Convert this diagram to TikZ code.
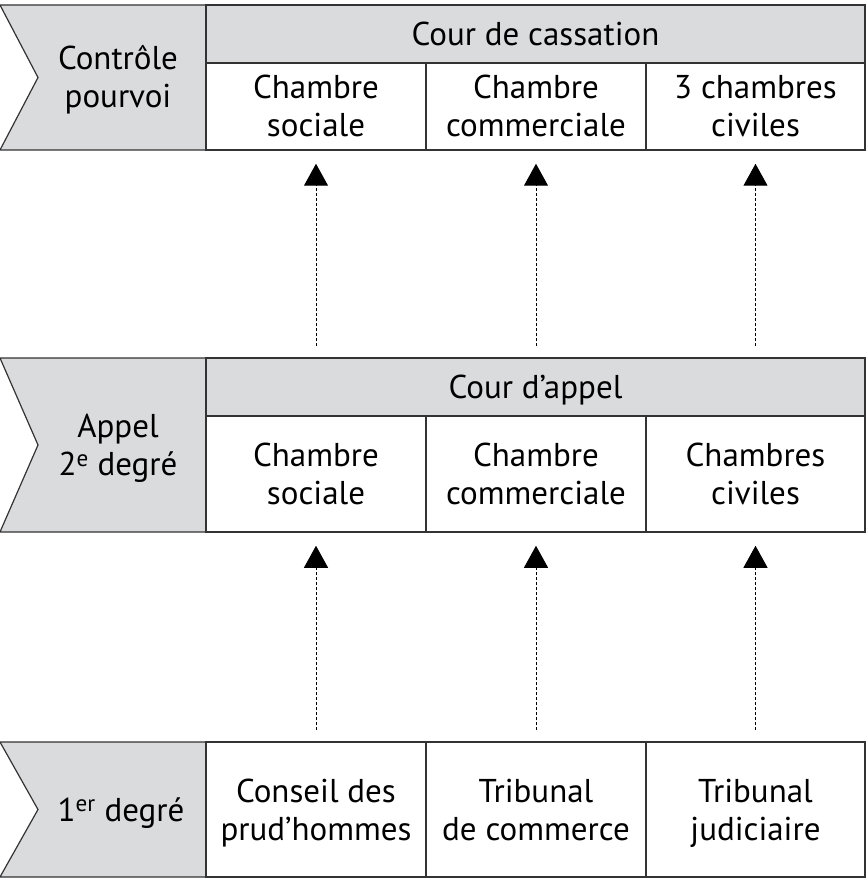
\documentclass[tikz,border=0pt]{standalone}
\usepackage{fontspec}
\setmainfont{PT Sans}
\usetikzlibrary{arrows.meta}
\definecolor{gris}{HTML}{DADBDD}
\definecolor{trait}{HTML}{333333}

\begin{document}
\begin{tikzpicture}[x=1pt,y=-1pt,line width=1.5pt] %% tikz
	\tikzstyle{texte}=[align=center,text=black,font=\fontsize{33}{38}\selectfont,text height=61pt,text depth=0pt];
	\tikzstyle{cellule}=[texte,draw=trait,rectangle,inner sep=0pt,minimum width=220pt];
	\tikzstyle{entete}=[cellule,fill=gris,minimum width=659pt,minimum height=58pt,text height=23pt];
	\tikzstyle{chevron}=[draw=trait,fill=gris,line width=1.2pt];
	\tikzstyle{fleche}=[draw=black,line width=1pt,dash pattern=on 3pt off 2pt,-{Triangle[length=22pt,width=24pt]},shorten <=11pt,shorten >=13pt];
	\useasboundingbox (0,0) rectangle (867,893);
	%% chevrons
	\draw[chevron] (0,5) -- (206,5) -- (206,150) -- (0,150) -- (38,77.5) -- cycle;
	\draw[chevron] (0,358) -- (206,358) -- (206,532) -- (0,532) -- (38,445) -- cycle;
	\draw[chevron] (0,742) -- (206,742) -- (206,877) -- (0,877) -- (38,809.5) -- cycle;
	\node[texte] (pourvoi) at (118,77.5) {Contrôle\\pourvoi};
	\node[texte] (appel) at (118,445) {Appel\\2\textsuperscript{e} degré};
	\node[texte,text height=23pt] (premier) at (121,809.5) {1\textsuperscript{er} degré};
	%% cour de cassation
	\node[entete] (CC) at (535.5,34) {Cour de cassation};
	\node[cellule,minimum height=87pt] (CCsoc) at (316,106.5) {Chambre\\sociale};
	\node[cellule,minimum height=87pt] (CCcom) at (536,106.5) {Chambre\\commerciale};
	\node[cellule,minimum height=87pt,minimum width=219pt] (CCciv) at (755.5,106.5) {3 chambres\\civiles};
	%% cour d'appel
	\node[entete] (CA) at (535.5,387) {Cour d’appel};
	\node[cellule,minimum height=116pt] (CAsoc) at (316,474) {Chambre\\sociale};
	\node[cellule,minimum height=116pt] (CAcom) at (536,474) {Chambre\\commerciale};
	\node[cellule,minimum height=116pt,minimum width=219pt] (CAciv) at (755.5,474) {Chambres\\civiles};
	%% premier degre
	\node[cellule,minimum height=135pt] (CPH) at (316,809.5) {Conseil des\\prud’hommes};
	\node[cellule,minimum height=135pt] (TC) at (536,809.5) {Tribunal\\de commerce};
	\node[cellule,minimum height=135pt,minimum width=219pt] (TJ) at (755.5,809.5) {Tribunal\\judiciaire};
	%% recours
	\draw[fleche] (CAsoc |- CA.north) -- (CCsoc);
	\draw[fleche] (CAcom |- CA.north) -- (CCcom);
	\draw[fleche] (CAciv |- CA.north) -- (CCciv);
	\draw[fleche] (CPH) -- (CAsoc);
	\draw[fleche] (TC) -- (CAcom);
	\draw[fleche] (TJ) -- (CAciv);
\end{tikzpicture}
\end{document}
